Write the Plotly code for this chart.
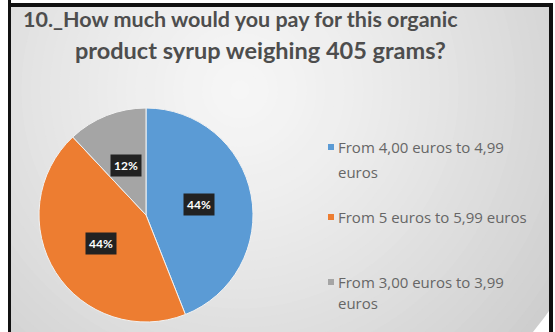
import math
import plotly.graph_objects as go

# Survey answers: price people would pay for a 405 g organic syrup
labels = [
    "From 4,00 euros to 4,99<br>euros",
    "From 5 euros to 5,99 euros",
    "From 3,00 euros to 3,99<br>euros",
]
shares = [44, 44, 12]
colors = ["#5B9BD5", "#ED7D31", "#A5A5A5"]

title_lines = [
    "10._How much would you pay for this organic",
    "product syrup weighing 405 grams?",
]

W, H = 555, 332

# pie geometry (pixels, top-down)
cx, cy, r = 146, 215, 107

fig = go.Figure()
fig.add_trace(go.Pie(
    labels=labels,
    values=shares,
    marker=dict(colors=colors, line=dict(color="#f2f2f2", width=1)),
    sort=False,
    direction="clockwise",
    rotation=0,
    textinfo="none",
    hoverinfo="label+percent",
    showlegend=False,
    domain=dict(x=[(cx - r) / W, (cx + r) / W],
                y=[(H - cy - r) / H, (H - cy + r) / H]),
))

shapes = []

# radial grey background of the chart area
n_rings = 40
gx, gy = 240, 90
rmax = 380
light, dark = 246, 206
for i in range(n_rings):
    rad = rmax * (1 - i / n_rings)
    t = rad / rmax
    c = int(round(light + (dark - light) * t ** 1.3))
    shapes.append(dict(
        type="circle", xref="paper", yref="paper", layer="below",
        x0=(gx - rad) / W, x1=(gx + rad) / W,
        y0=1 - (gy + rad) / H, y1=1 - (gy - rad) / H,
        fillcolor=f"rgb({c},{c},{c})", line=dict(width=0),
    ))

# outer white margin and black frame
def rect(x0, y0, x1, y1, color):
    return dict(type="rect", xref="paper", yref="paper", layer="below",
                x0=x0 / W, x1=x1 / W, y0=1 - y1 / H, y1=1 - y0 / H,
                fillcolor=color, line=dict(width=0))

shapes += [
    rect(0, 0, 8, H, "white"),
    rect(0, 0, W, 3, "white"),
    rect(553, 0, W, H, "white"),
    rect(8, 0, 11, H, "#111111"),
    rect(8, 3, 553, 7, "#111111"),
    rect(549, 3, 553, H, "#111111"),
]

annotations = []

# title, two centred lines
for text, (x, y, size) in zip(title_lines, [(240, 19, 21.5), (260, 50, 23.5)]):
    annotations.append(dict(
        text=f"<b>{text}</b>", xref="paper", yref="paper",
        x=x / W, y=1 - y / H, xanchor="center", yanchor="middle",
        showarrow=False,
        font=dict(family="Lato", size=size, color="#4d4d4d"),
    ))

# percentage labels in dark boxes, at the middle angle of each slice
total = sum(shares)
start = 0.0
for v in shares:
    mid = (start + v / 2) / total * 2 * math.pi
    start += v
    px = cx + 0.5 * r * math.sin(mid)
    py = cy - 0.5 * r * math.cos(mid)
    annotations.append(dict(
        text=f"<b>{round(v / total * 100)}%</b>", xref="paper", yref="paper",
        x=px / W, y=1 - py / H, xanchor="center", yanchor="middle",
        showarrow=False, bgcolor="#222222", borderpad=3,
        font=dict(family="Lato", size=12, color="white"),
    ))

# legend: colour square plus wrapped text
legend_top = [147, 217, 282]
line_gap = [25, 25, 21]
for lab, col, y0, gap in zip(labels, colors, legend_top, line_gap):
    shapes.append(dict(
        type="rect", xref="paper", yref="paper",
        x0=328 / W, x1=334 / W, y0=1 - (y0 + 3) / H, y1=1 - (y0 - 3) / H,
        fillcolor=col, line=dict(width=0),
    ))
    for k, part in enumerate(lab.split("<br>")):
        annotations.append(dict(
            text=part, xref="paper", yref="paper",
            x=336 / W, y=1 - (y0 + k * gap) / H,
            xanchor="left", yanchor="middle", showarrow=False,
            font=dict(family="Open Sans", size=15, color="#666666"),
        ))

fig.update_layout(
    width=W, height=H,
    margin=dict(l=0, r=0, t=0, b=0),
    paper_bgcolor="white",
    plot_bgcolor="white",
    shapes=shapes,
    annotations=annotations,
)

fig.write_html("out.html")
